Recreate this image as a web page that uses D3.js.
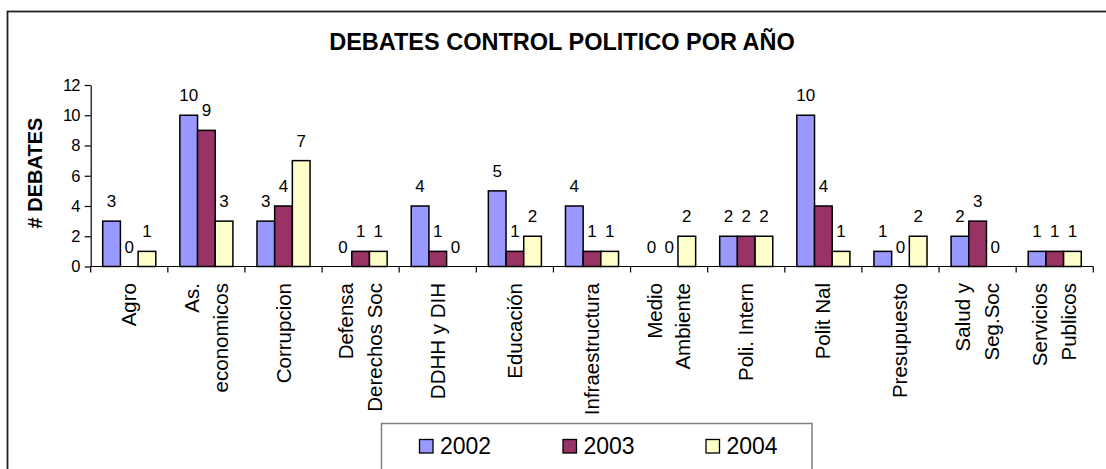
<!DOCTYPE html>
<html>
<head>
<meta charset="utf-8">
<script src="https://cdn.jsdelivr.net/npm/d3@7"></script>
<style>
  html, body { margin: 0; padding: 0; background: #ffffff; }
  svg { display: block; font-family: "Liberation Sans", Arial, sans-serif; }
</style>
</head>
<body>
<svg id="chart" width="1106" height="469"></svg>
<script>
// ---- data ----
const title = "DEBATES CONTROL POLITICO POR AÑO";
const yAxisTitle = "# DEBATES";
const categories = [
  ["Agro"],
  ["As.", "economicos"],
  ["Corrupcion"],
  ["Defensa", "Derechos Soc"],
  ["DDHH y DIH"],
  ["Educación"],
  ["Infraestructura"],
  ["Medio", "Ambiente"],
  ["Poli. Intern"],
  ["Polit Nal"],
  ["Presupuesto"],
  ["Salud y", "Seg.Soc"],
  ["Servicios", "Publicos"]
];
const seriesNames = ["2002", "2003", "2004"];
const values2002 = [3, 10, 3, 0, 4, 5, 4, 0, 2, 10, 1, 2, 1];
const values2003 = [0, 9, 4, 1, 1, 1, 1, 0, 2, 4, 0, 3, 1];
const values2004 = [1, 3, 7, 1, 0, 2, 1, 2, 2, 1, 2, 0, 1];
const yTicks = [0, 2, 4, 6, 8, 10, 12];
const colors = ["#9999FF", "#993366", "#FFFFCC"];

const seriesValues = [values2002, values2003, values2004];
const catKeys = categories.map(c => c.join(" "));

// ---- layout ----
const svg = d3.select("#chart");
const plot = { left: 90.7, right: 1093.3, top: 85, bottom: 266.5 };

// outer frame (extends beyond the visible area at right and bottom)
svg.append("rect")
  .attr("x", 7.5).attr("y", 11.5)
  .attr("width", 1200).attr("height", 600)
  .attr("fill", "none").attr("stroke", "#222").attr("stroke-width", 1.8);

const x0 = d3.scaleBand().domain(catKeys).range([plot.left, plot.right]).padding(0);
const x1 = d3.scaleBand().domain(seriesNames).range([0, x0.bandwidth()]).paddingInner(0).paddingOuter(0.68);
const y = d3.scaleLinear().domain([0, 12]).range([plot.bottom, plot.top]);

// title
svg.append("text")
  .attr("x", 562).attr("y", 50)
  .attr("text-anchor", "middle")
  .attr("font-weight", "bold")
  .attr("font-size", 23.5)
  .attr("fill", "#000")
  .text(title);

// y axis title
svg.append("text")
  .attr("transform", "translate(42,173) rotate(-90)")
  .attr("text-anchor", "middle")
  .attr("font-weight", "bold")
  .attr("font-size", 20)
  .attr("fill", "#000")
  .text(yAxisTitle);

// bars
const g = svg.append("g");
categories.forEach((c, i) => {
  seriesNames.forEach((s, j) => {
    const v = seriesValues[j][i];
    const bx = x0(catKeys[i]) + x1(s);
    if (v > 0) {
      g.append("rect")
        .attr("x", bx).attr("y", y(v))
        .attr("width", x1.bandwidth()).attr("height", y(0) - y(v))
        .attr("fill", colors[j]).attr("stroke", "#000").attr("stroke-width", 1.5);
    }
    g.append("text")
      .attr("x", bx + x1.bandwidth() / 2)
      .attr("y", y(v) - 14)
      .attr("text-anchor", "middle")
      .attr("font-size", 17)
      .attr("fill", "#000")
      .text(v);
  });
});

// y axis
const yAxis = d3.axisLeft(y).tickValues(yTicks).tickSize(6).tickSizeOuter(0).tickPadding(5).tickFormat(d3.format("d"));
const yg = svg.append("g").attr("transform", `translate(${plot.left},0)`).call(yAxis);
yg.select(".domain").attr("stroke", "#000").attr("stroke-width", 1.2);
yg.selectAll(".tick line").attr("stroke", "#000").attr("stroke-width", 1.2);
yg.selectAll(".tick text").attr("font-size", 16.5).attr("font-family", "Liberation Sans, Arial, sans-serif").attr("fill", "#000").attr("letter-spacing", -0.8);

// x axis line and boundary ticks
svg.append("line")
  .attr("x1", plot.left).attr("x2", plot.right)
  .attr("y1", y(0)).attr("y2", y(0))
  .attr("stroke", "#000").attr("stroke-width", 1.2);
const boundaries = catKeys.map(k => x0(k)).concat([x0(catKeys[catKeys.length - 1]) + x0.bandwidth()]);
svg.selectAll(".xtick").data(boundaries).enter().append("line")
  .attr("x1", d => d).attr("x2", d => d)
  .attr("y1", y(0)).attr("y2", y(0) + 6)
  .attr("stroke", "#000").attr("stroke-width", 1.2);

// category labels (rotated)
const lineGap = 28.5;
categories.forEach((lines, i) => {
  const cx = x0(catKeys[i]) + x0.bandwidth() / 2;
  const t = svg.append("text")
    .attr("transform", `translate(${cx},283) rotate(-90)`)
    .attr("text-anchor", "end")
    .attr("font-size", 20.5)
    .attr("fill", "#000");
  const n = lines.length;
  lines.forEach((ln, k) => {
    t.append("tspan")
      .attr("x", 0)
      .attr("y", (k - (n - 1) / 2) * lineGap + 7)
      .text(ln);
  });
});

// legend
svg.append("rect")
  .attr("x", 381.5).attr("y", 423.5)
  .attr("width", 430.5).attr("height", 80)
  .attr("fill", "#fff").attr("stroke", "#808080").attr("stroke-width", 1.5);
const legendX = [419.5, 563, 706];
seriesNames.forEach((s, j) => {
  svg.append("rect")
    .attr("x", legendX[j]).attr("y", 439.5)
    .attr("width", 13.5).attr("height", 13.5)
    .attr("fill", colors[j]).attr("stroke", "#000").attr("stroke-width", 1.3);
  svg.append("text")
    .attr("x", legendX[j] + 20.5).attr("y", 453.5)
    .attr("font-size", 23)
    .attr("fill", "#000")
    .text(s);
});
</script>
</body>
</html>
